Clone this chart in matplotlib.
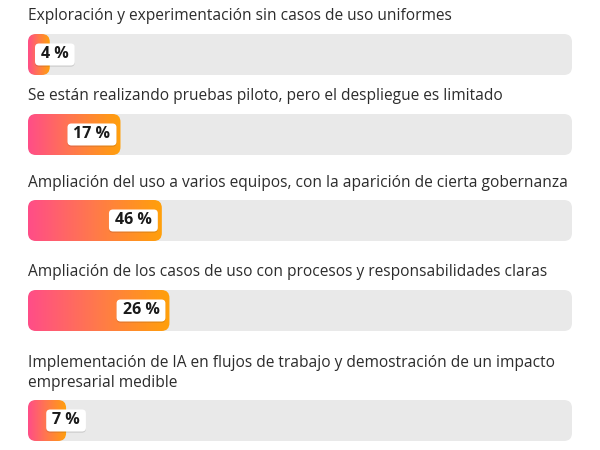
import numpy as np
import matplotlib
matplotlib.use("Agg")
import matplotlib.pyplot as plt
from matplotlib.patches import FancyBboxPatch
from matplotlib.colors import LinearSegmentedColormap

# data
categories = [
    "Exploración y experimentación sin casos de uso uniformes",
    "Se están realizando pruebas piloto, pero el despliegue es limitado",
    "Ampliación del uso a varios equipos, con la aparición de cierta gobernanza",
    "Ampliación de los casos de uso con procesos y responsabilidades claras",
    "Implementación de IA en flujos de trabajo y demostración de un impacto\nempresarial medible",
]
labels = [4, 17, 46, 26, 7]          # value printed in the badge
bar_fill = [4, 17, 24.6, 26, 7]      # fill length as drawn in the original

# layout (pixels, figure is 600x450)
bar_top = [34, 114, 200, 290, 400]
title_y = [16, 96, 183, 272, 373]
bar_h = 41
track_left, track_w = 28, 544
px = 100 / track_w                    # x units per pixel

plt.rcParams['font.family'] = ['Open Sans', 'DejaVu Sans']

fig = plt.figure(figsize=(6, 4.5), dpi=100)
ax = fig.add_axes([track_left / 600, 0, track_w / 600, 1])
ax.axis('off')

cmap = LinearSegmentedColormap.from_list('pk', ['#ff4d88', '#ff7a4a', '#ffa00a'])
grad = np.linspace(0, 1, 256).reshape(1, -1)

def rbox(x, y, w, h, r, **kw):
    return FancyBboxPatch((x, y), w, h,
                          boxstyle=f"round,pad=0,rounding_size={r * px}",
                          mutation_aspect=1 / px, **kw)

for i, cat in enumerate(categories):
    y0 = bar_top[i]
    ax.text(0, title_y[i], cat, fontsize=11.2, color='#2c2c2c', va='center',
            ha='left', linespacing=1.32)
    ax.add_patch(rbox(0, y0, 100, bar_h, 8, facecolor='#e9e9e9', edgecolor='none'))
    f = bar_fill[i]
    clip = rbox(0, y0, f, bar_h, 8, facecolor='none', edgecolor='none')
    ax.add_patch(clip)
    im = ax.imshow(grad, cmap=cmap, extent=[0, f, y0 + bar_h, y0], aspect='auto',
                   interpolation='bicubic', zorder=2)
    im.set_clip_path(clip)

ax.set_xlim(0, 100)
ax.set_ylim(450, 0)

renderer = fig.canvas.get_renderer()
for i in range(len(labels)):
    yc = bar_top[i] + bar_h / 2
    t = ax.text(0, yc, f"{labels[i]} %", fontsize=11.5, fontweight='bold',
                color='#1a1a1a', ha='center', va='center', zorder=5)
    tw = t.get_window_extent(renderer).width
    bw = tw + 12
    bh = 22
    fill_px = bar_fill[i] / px
    if fill_px > bw + 10:
        right = fill_px - 4
        left = right - bw
    else:
        left = max(fill_px - bw / 2, 7)
    t.set_x((left + bw / 2) * px)
    ax.add_patch(rbox(left * px, yc - bh / 2 + 1.2, bw * px, bh, 4,
                      facecolor='#000000', alpha=0.12, edgecolor='none', zorder=3))
    ax.add_patch(rbox(left * px, yc - bh / 2, bw * px, bh, 4,
                      facecolor='white', edgecolor='none', zorder=4))

fig.savefig('out.png', dpi=100)
